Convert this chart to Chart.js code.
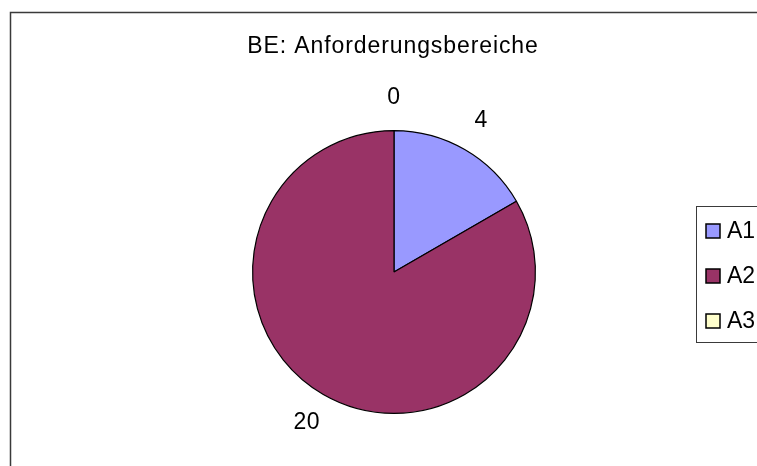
<!DOCTYPE html>
<html>
<head>
<meta charset="utf-8">
<script src="https://cdn.jsdelivr.net/npm/chart.js@4/dist/chart.umd.min.js"></script>
<style>
  html, body { margin: 0; padding: 0; background: #fff; }
  canvas { display: block; }
</style>
</head>
<body>
<canvas id="bechart" width="757" height="466"></canvas>
<script>
// data
var kategorien = ['A1', 'A2', 'A3'];
var werte = [4, 20, 0];
var farben = ['#9999FF', '#993366', '#FFFFCC'];
var titel = 'BE: Anforderungsbereiche';

// rahmen, titel, werte und legende selbst zeichnen
var zeichnenPlugin = {
  id: 'zeichnen',
  afterDraw: function(chart) {
    var ctx = chart.ctx;
    ctx.save();

    // rahmen um das diagramm
    ctx.strokeStyle = '#3a3a3a';
    ctx.lineWidth = 1.5;
    ctx.strokeRect(10.5, 12.5, 800, 500);

    // titel
    ctx.fillStyle = '#000';
    ctx.font = '23px "Liberation Sans", Arial, sans-serif';
    ctx.letterSpacing = '0.9px';
    ctx.textAlign = 'center';
    ctx.textBaseline = 'alphabetic';
    ctx.fillText(titel, 393, 53);

    // wertbeschriftungen ausserhalb
    var meta = chart.getDatasetMeta(0);
    ctx.letterSpacing = '0.5px';
    ctx.textBaseline = 'middle';
    meta.data.forEach(function(arc, i) {
      var mitte = (arc.startAngle + arc.endAngle) / 2;
      var r = arc.outerRadius + 33;
      var x = arc.x + Math.cos(mitte) * r;
      var y = arc.y + Math.sin(mitte) * r;
      ctx.fillText(String(werte[i]), x, y);
    });

    // legende
    ctx.strokeStyle = '#3a3a3a';
    ctx.lineWidth = 1;
    ctx.strokeRect(696.5, 206.5, 120, 136);
    ctx.textAlign = 'left';
    ctx.letterSpacing = '0px';
    ctx.font = '23px "Liberation Sans", Arial, sans-serif';
    kategorien.forEach(function(k, i) {
      var cy = 231 + i * 45;
      ctx.fillStyle = farben[i];
      ctx.fillRect(706, cy - 7, 14, 14);
      ctx.strokeStyle = '#000';
      ctx.lineWidth = 1.5;
      ctx.strokeRect(706, cy - 7, 14, 14);
      ctx.fillStyle = '#000';
      ctx.fillText(k, 727, cy + 1);
    });
    ctx.restore();
  }
};

var config = {
  type: 'pie',
  data: {
    labels: kategorien,
    datasets: [{
      data: werte,
      backgroundColor: farben,
      borderColor: '#000',
      borderWidth: 1.2
    }]
  },
  options: {
    responsive: false,
    animation: false,
    layout: {
      padding: { top: 130, bottom: 52, left: 252, right: 221 }
    },
    plugins: {
      legend: { display: false },
      title: { display: false },
      tooltip: { enabled: false }
    }
  },
  plugins: [zeichnenPlugin]
};

var bectx = document.getElementById('bechart').getContext('2d');
var bechart = new Chart(bectx, config);
</script>
</body>
</html>
